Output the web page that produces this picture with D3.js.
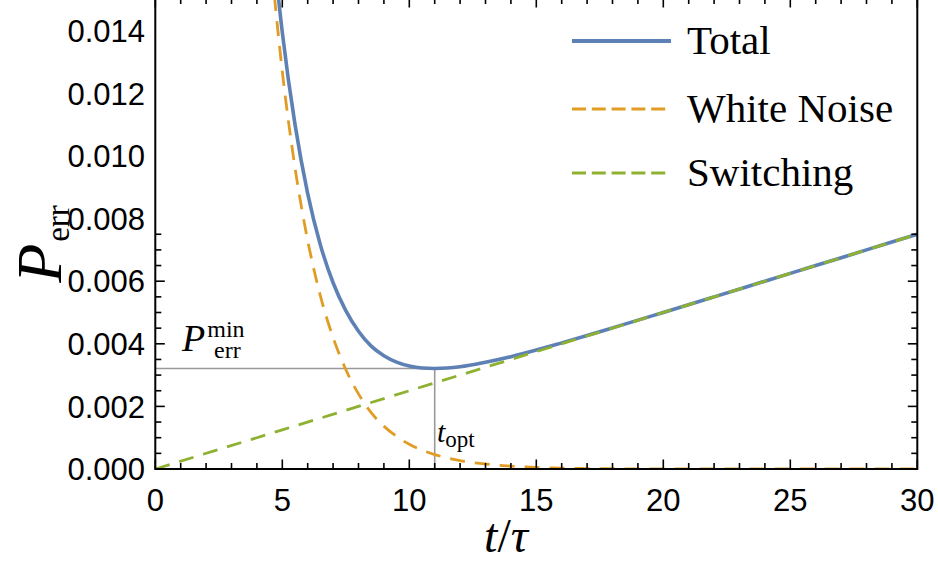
<!DOCTYPE html>
<html><head><meta charset="utf-8">
<script src="https://cdn.jsdelivr.net/npm/d3@7"></script>
<style>
body{margin:0;background:#fff;}
svg{display:block;}
</style></head>
<body>
<svg id="chart" width="938" height="564"></svg>
<script>
// ---- data ----
const tCurve = [4.5,5,5.5,6,6.5,7,7.5,8,8.5,9,9.5,10,10.5,11,11.5,12,13,14,15,16,17,18,20,22,24,26,28,30];
const whiteNoise = [0.0167,0.0127,0.00963,0.0073,0.00553,0.0042,0.00318,0.00240,0.00180,0.00137,0.00104,0.00079,0.0006,0.00046,0.00035,0.000265,0.00016,0.00009,0.00005,0.00003,0.000015,0.000008,0.000002,0,0,0,0,0];
const total = [0.01783,0.01395,0.01101,0.0088,0.00716,0.00595,0.00506,0.0044,0.003925,0.00362,0.003415,0.00329,0.003225,0.00321,0.003225,0.003265,0.00341,0.00359,0.0038,0.00403,0.004265,0.004508,0.005002,0.0055,0.006,0.0065,0.007,0.0075];
const tSwitch = [0,5,10,15,20,25,30];
const switching = [0,0.00125,0.0025,0.00375,0.005,0.00625,0.0075];
const tOpt = 11;
const pMin = 0.00321;
const xTickLabels = [0,5,10,15,20,25,30];
const yTickLabels = [0,0.002,0.004,0.006,0.008,0.010,0.012,0.014];
const legendNames = ["Total","White Noise","Switching"];

const colors = {total:"#5e81b5", white:"#e19c24", sw:"#8fb131"};

const svg = d3.select("#chart");
const L = 155.3, R = 917.3, B = 469, T = -2;
const x = d3.scaleLinear().domain([0,30]).range([L,R]);
const y = d3.scaleLinear().domain([0,0.014]).range([B,30.8]);

const defs = svg.append("defs");
defs.append("clipPath").attr("id","clip").append("rect")
  .attr("x",L).attr("y",T).attr("width",R-L).attr("height",B-T);

const plot = svg.append("g").attr("clip-path","url(#clip)");

// guide lines
plot.append("line").attr("x1",L).attr("x2",x(tOpt)).attr("y1",y(pMin)).attr("y2",y(pMin))
  .attr("stroke","#999").attr("stroke-width",1.6);
plot.append("line").attr("x1",x(tOpt)).attr("x2",x(tOpt)).attr("y1",y(pMin)).attr("y2",B)
  .attr("stroke","#999").attr("stroke-width",1.6);

const line = d3.line().x(d=>x(d[0])).y(d=>y(d[1])).curve(d3.curveMonotoneX);

plot.append("path").datum(tCurve.map((t,i)=>[t,total[i]]))
  .attr("d",line).attr("fill","none").attr("stroke",colors.total).attr("stroke-width",3.6);
plot.append("path").datum(tCurve.map((t,i)=>[t,whiteNoise[i]]))
  .attr("d",line).attr("fill","none").attr("stroke",colors.white).attr("stroke-width",2.8)
  .attr("stroke-dasharray","15,10");
plot.append("path").datum(tSwitch.map((t,i)=>[t,switching[i]]))
  .attr("d",line).attr("fill","none").attr("stroke",colors.sw).attr("stroke-width",2.8)
  .attr("stroke-dasharray","15,10");

// frame
svg.append("rect").attr("x",L).attr("y",T).attr("width",R-L).attr("height",B-T)
  .attr("fill","none").attr("stroke","#000").attr("stroke-width",2);

// ticks
const axG = svg.append("g").attr("stroke","#000").attr("stroke-width",1.6);
d3.range(0,31,1).forEach(v=>{
  const major = v%5===0;
  const len = major?9.5:6;
  axG.append("line").attr("x1",x(v)).attr("x2",x(v)).attr("y1",B).attr("y2",B-len);
  axG.append("line").attr("x1",x(v)).attr("x2",x(v)).attr("y1",T).attr("y2",T+len);
});
d3.range(0,16,1).map(i=>i*0.0005).forEach(v=>{
  const major = Math.round(v/0.0005)%4===0;
  const len = major?9.5:6;
  if (y(v) < T) return;
  axG.append("line").attr("x1",L).attr("x2",L+len).attr("y1",y(v)).attr("y2",y(v));
  axG.append("line").attr("x1",R).attr("x2",R-len).attr("y1",y(v)).attr("y2",y(v));
});

// tick labels
const tickFont = "'Liberation Sans', Arial, sans-serif";
svg.append("g").selectAll("text").data(xTickLabels).join("text")
  .attr("x",d=>x(d)).attr("y",511).attr("text-anchor","middle")
  .attr("font-family",tickFont).attr("font-size",31).text(d=>d);
svg.append("g").selectAll("text").data(yTickLabels).join("text")
  .attr("x",145).attr("y",d=>y(d)).attr("dy","0.36em").attr("text-anchor","end")
  .attr("font-family",tickFont).attr("font-size",31).text(d=>d3.format(".3f")(d));

const serif = "'Liberation Serif', 'DejaVu Serif', serif";
// axis titles
const xt = svg.append("text").attr("x",506).attr("y",552).attr("text-anchor","middle")
  .attr("font-family",serif).attr("font-size",48).attr("font-style","italic");
xt.append("tspan").text("t");
xt.append("tspan").attr("font-style","normal").text("/");
xt.append("tspan").text("τ");

const yt = svg.append("text").attr("transform","translate(61,244) rotate(-90)")
  .attr("text-anchor","middle").attr("font-family",serif);
yt.append("tspan").attr("font-size",64).attr("font-style","italic").text("P");
yt.append("tspan").attr("font-size",33).attr("dy",8).attr("dx",2).text("err");

// annotations
const pa = svg.append("text").attr("x",182).attr("y",351).attr("font-family",serif);
pa.append("tspan").attr("font-size",38).attr("font-style","italic").text("P");
pa.append("tspan").attr("font-size",24).attr("dy",-14).attr("dx",2).text("min");
svg.append("text").attr("x",214).attr("y",358).attr("font-family",serif)
  .attr("font-size",24).text("err");

const ta = svg.append("text").attr("x",437).attr("y",442).attr("font-family",serif);
ta.append("tspan").attr("font-size",30).attr("font-style","italic").text("t");
ta.append("tspan").attr("font-size",23).attr("dy",5).text("opt");

// legend
const legY = [41,109,173];
const legColors = [colors.total, colors.white, colors.sw];
legendNames.forEach((n,i)=>{
  const g = svg.append("g");
  g.append("line").attr("x1",572).attr("x2",671).attr("y1",legY[i]).attr("y2",legY[i])
    .attr("stroke",legColors[i]).attr("stroke-width",i===0?4.2:3)
    .attr("stroke-dasharray",i===0?null:"14,5.8");
  g.append("text").attr("x",687).attr("y",legY[i]+13).attr("font-family",serif)
    .attr("font-size",41).text(n);
});
</script>
</body></html>
